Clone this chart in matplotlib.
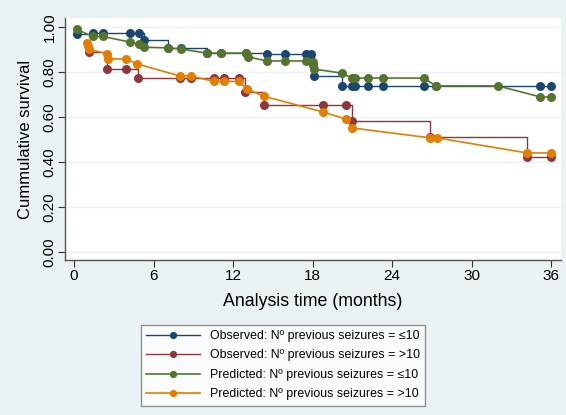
import numpy as np
import matplotlib.pyplot as plt

plt.rcParams['font.family'] = ['Liberation Sans', 'DejaVu Sans']

# observed KM, <=10 previous seizures
t_obs_lo = [0.2, 1.4, 2.2, 4.2, 4.9, 5.3, 7.1, 8.1, 10.0, 11.1, 13.0, 14.6, 15.9,
            17.5, 17.9, 18.1, 20.2, 21.0, 21.2, 22.2, 23.3, 26.4, 27.3, 35.2, 36.0]
s_obs_lo = [0.969, 0.973, 0.973, 0.973, 0.973, 0.942, 0.907, 0.907, 0.884, 0.884,
            0.884, 0.882, 0.882, 0.882, 0.882, 0.782, 0.738, 0.738, 0.738, 0.738,
            0.738, 0.738, 0.738, 0.738, 0.738]

# observed KM, >10 previous seizures
t_obs_hi = [1.1, 2.5, 3.9, 4.8, 8.0, 8.8, 10.6, 11.3, 12.45, 12.9, 14.3, 18.8,
            20.5, 21.0, 26.9, 34.2, 36.0]
s_obs_hi = [0.889, 0.813, 0.813, 0.773, 0.773, 0.773, 0.773, 0.773, 0.773, 0.711,
            0.655, 0.655, 0.655, 0.582, 0.511, 0.422, 0.422]

# predicted, <=10
t_pre_lo = [0.2, 1.4, 2.2, 4.2, 4.9, 5.3, 7.1, 8.1, 10.0, 11.1, 13.0, 13.1, 14.6,
            15.9, 17.5, 18.0, 18.05, 18.1, 20.2, 21.0, 21.2, 22.2, 23.3, 26.4, 27.3,
            32.0, 35.2, 36.0]
s_pre_lo = [0.99, 0.958, 0.958, 0.933, 0.924, 0.91, 0.907, 0.902, 0.884, 0.884,
            0.884, 0.867, 0.849, 0.849, 0.849, 0.844, 0.83, 0.813, 0.795, 0.773,
            0.773, 0.773, 0.773, 0.773, 0.738, 0.738, 0.689, 0.689]

# predicted, >10
t_pre_hi = [1.0, 1.05, 1.1, 2.5, 2.55, 3.9, 4.75, 8.0, 8.8, 10.6, 11.3, 12.45,
            13.05, 14.3, 18.8, 20.5, 21.0, 26.9, 27.4, 34.2, 36.0]
s_pre_hi = [0.93, 0.915, 0.90, 0.882, 0.858, 0.858, 0.836, 0.782, 0.782, 0.758,
            0.758, 0.758, 0.724, 0.693, 0.622, 0.591, 0.551, 0.507, 0.507, 0.44, 0.44]

labels = ['Observed: Nº previous seizures = ≤10',
          'Observed: Nº previous seizures = >10',
          'Predicted: Nº previous seizures = ≤10',
          'Predicted: Nº previous seizures = >10']
navy, maroon, green, orange = '#1A476F', '#90353B', '#55752F', '#E37E00'
bg = '#EAF2F3'

fig = plt.figure(figsize=(5.66, 4.15), dpi=100, facecolor=bg)
ax = fig.add_axes([65/566, 155/415, 496/566, 242/415])
ax.set_facecolor('white')

mk = dict(marker='o', markersize=6.5, markeredgewidth=0)
h1, = ax.plot(t_obs_lo, s_obs_lo, drawstyle='steps-post', color=navy, lw=1.0,
              label=labels[0], **mk)
h2, = ax.plot(t_obs_hi, s_obs_hi, drawstyle='steps-post', color=maroon, lw=1.0,
              label=labels[1], **mk)
h3, = ax.plot(t_pre_lo, s_pre_lo, color=green, lw=1.2, label=labels[2], **mk)
h4, = ax.plot(t_pre_hi, s_pre_hi, color=orange, lw=1.2, label=labels[3], **mk)

ax.set_xlim(-0.68, 36.75)
ax.set_ylim(-0.036, 1.04)
ax.set_xticks(np.arange(0, 37, 6))
ax.set_yticks(np.arange(0, 1.01, 0.2))
ax.set_yticklabels(['%.2f' % v for v in np.arange(0, 1.01, 0.2)], rotation=90,
                   va='center')
ax.tick_params(labelsize=11, length=5, color='#333333', direction='out')
ax.tick_params(axis='x', pad=1.5)
ax.tick_params(axis='y', pad=1)
ax.grid(axis='y', color=bg, lw=1)
ax.set_axisbelow(True)
for sp in ['top', 'right']:
    ax.spines[sp].set_visible(False)
for sp in ['left', 'bottom']:
    ax.spines[sp].set_color('#555555')
    ax.spines[sp].set_linewidth(1)

ax.set_xlabel('Analysis time (months)', fontsize=12.8, labelpad=7)
ax.set_ylabel('Cummulative survival', fontsize=12, labelpad=7)

leg = fig.legend(handles=[h1, h2, h3, h4], loc='center', bbox_to_anchor=(0.5, 0.12),
                 fontsize=8.9, frameon=True, fancybox=False, edgecolor='#777777',
                 handlelength=4.3, handletextpad=0.8, borderpad=0.45,
                 labelspacing=0.6, markerscale=0.8)
leg.get_frame().set_linewidth(1)

fig.savefig('out.png', dpi=100, facecolor=bg)
